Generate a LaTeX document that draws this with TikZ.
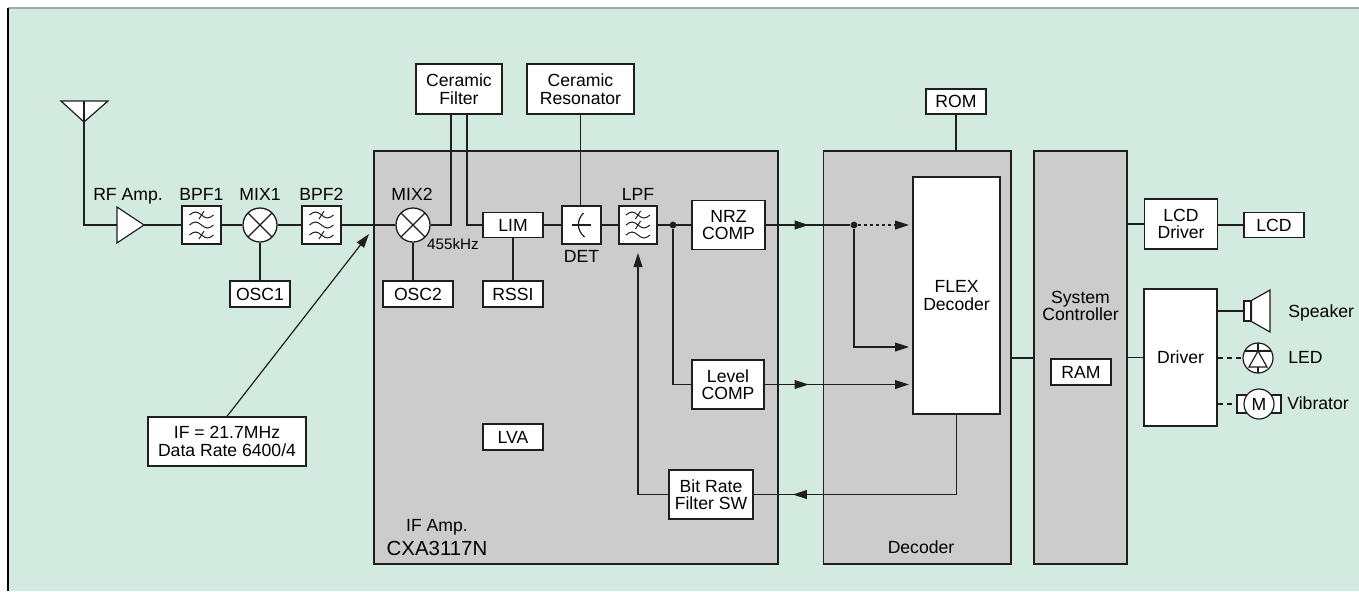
\documentclass[tikz,border=0pt]{standalone}
\usepackage{fontspec}
\setmainfont{Liberation Sans}
\usetikzlibrary{arrows.meta,decorations.markings,calc}
\definecolor{bgg}{HTML}{D3EAE0}
\definecolor{blkg}{HTML}{CCCCCC}
\definecolor{ln}{HTML}{1E1E1E}
\newcommand\tld[1]{\draw[wire,line width=0.5pt] (-12,#1) sin (-6,#1-3) cos (0,#1) sin (6,#1+3) cos (12,#1);}
\newcommand\tck[1]{\draw[wire,line width=0.5pt] (-2.5,#1+4) -- (2.5,#1-4);}
\begin{document}
\begin{tikzpicture}[x=0.5pt,y=-0.5pt,
  every node/.style={font=\fontsize{8.8}{8.8}\selectfont, text=black},
  sz/.style 2 args={minimum width={#1*0.5pt}, minimum height={#2*0.5pt}},
  wbox/.style={draw=ln, fill=white, line width=0.65pt, inner sep=0pt, align=center},
  gbox/.style={draw=ln, fill=blkg, line width=0.65pt, inner sep=0pt},
  wire/.style={draw=ln, line width=0.6pt},
  mixc/.style={circle, draw=ln, fill=white, line width=0.65pt, inner sep=0pt, minimum size=17pt},
  tip/.style={-{Triangle[length=7pt,width=4.4pt]}},
  midtip/.style={postaction={decorate}, decoration={markings, mark=at position #1 with {\arrow{Triangle[length=7pt,width=4.4pt]}}}},
  lbl/.style={anchor=base, inner sep=0pt},
  dotn/.style={circle, fill=ln, inner sep=0pt, minimum size=3.4pt}
]
\useasboundingbox (0,0) rectangle (1359,591);
\fill[white] (0,0) rectangle (1359,591);
\fill[bgg] (8,8) rectangle (1359,591);
\draw[gray!70, line width=1pt] (8,8) -- (1359,8);
\draw[black, line width=1pt] (8,8) -- (8,591);

% group blocks
\node[gbox, sz={404}{413}] (ifblk) at (576,357.5) {};
\node[gbox, sz={187.5}{413}] (decblk) at (917.25,357.5) {};
\node[gbox, sz={93}{413}] (sysblk) at (1080.5,357.5) {};

% antenna and RF amp
\coordinate (ant) at (84,101);
\coordinate (rfin) at (117,225);
\coordinate (rfout) at (144,225);
\draw[wire, fill=white] (61,101) -- (108,101) -- (84,122) -- cycle;
\draw[wire, fill=white] (117,207) -- (144,225) -- (117,243) -- cycle;

% boxes
\node[wbox, sz={60}{26}] (osc1) at (260,294) {OSC1};
\node[wbox, sz={39}{38}] (bpf1) at (201.5,225) {};
\node[wbox, sz={39}{38}] (bpf2) at (321.5,225) {};
\node[mixc] (mix1) at (260,225) {};
\node[mixc] (mix2) at (413,225) {};
\node[wbox, sz={70}{26}] (osc2) at (418,294) {OSC2};
\node[wbox, sz={86}{50}] (cf) at (459,89) {Ceramic\\Filter};
\node[wbox, sz={60}{25}] (lim) at (513,225) {LIM};
\node[wbox, sz={60}{26}] (rssi) at (513,294) {RSSI};
\node[wbox, sz={39}{38}] (det) at (581.5,225) {};
\node[wbox, sz={107}{50}] (cr) at (580.5,89) {Ceramic\\Resonator};
\node[wbox, sz={38}{38}] (lpf) at (638,225) {};
\node[wbox, sz={73}{49}] (nrz) at (728.5,225) {NRZ\\COMP};
\node[wbox, sz={72}{49}] (lvl) at (728,384.5) {Level\\COMP};
\node[wbox, sz={84}{49}] (brf) at (711,494.5) {Bit Rate\\Filter SW};
\node[wbox, sz={60}{26}] (lva) at (513,437) {LVA};
\node[wbox, sz={158}{49}] (ifbox) at (227,441.5) {IF = 21.7MHz\\Data Rate 6400/4};
\node[wbox, sz={87}{237}] (flex) at (956.5,295.5) {FLEX\\Decoder};
\node[wbox, sz={60}{25}] (rom) at (956,101.5) {ROM};
\node[wbox, sz={60}{26}] (ram) at (1081,372) {RAM};
\node[wbox, sz={73}{50}] (lcdd) at (1181,224) {LCD\\Driver};
\node[wbox, sz={60}{25}] (lcd) at (1274,225) {LCD};
\node[wbox, sz={73}{137}] (drv) at (1180.5,357.5) {Driver};

% labels
\node[lbl] at (128,200) {RF Amp.};
\node[lbl] at (201.5,200) {BPF1};
\node[lbl] at (260,200) {MIX1};
\node[lbl] at (321.5,200) {BPF2};
\node[lbl] at (412,200) {MIX2};
\node[lbl] at (638,200) {LPF};
\node[lbl, font=\fontsize{7.6}{8}\selectfont] at (453,249) {455kHz};
\node[lbl] at (581.5,262) {DET};
\node[lbl] at (437,531) {IF Amp.};
\node[lbl, font=\fontsize{10.2}{12}\selectfont] at (437,555) {CXA3117N};
\node[lbl] at (921,553) {Decoder};
\node[align=center, inner sep=0pt] at (1080.5,306) {System\\Controller};

% symbols
\foreach \b in {bpf1,bpf2}{
  \begin{scope}[shift={(\b.center)}]
    \tld{-10}\tld{0}\tld{10}\tck{-10}\tck{10}
  \end{scope}}
\begin{scope}[shift={(lpf.center)}]
  \tld{-10}\tld{0}\tld{10}\tck{-10}\tck{0}
\end{scope}
\foreach \m in {mix1,mix2}{
  \draw[wire] ([shift={(-12,-12)}]\m.center) -- ([shift={(12,12)}]\m.center);
  \draw[wire] ([shift={(-12,12)}]\m.center) -- ([shift={(12,-12)}]\m.center);}
\begin{scope}[shift={(det.center)}]
  \draw[wire] (-10,0) -- (9,0);
  \draw[wire] (2,-12) .. controls (-5,-5) and (-5,5) .. (3,12);
\end{scope}

% connectors
\coordinate (ifin) at (369,234);
\coordinate (lpfin) at (638,253);
\node[dotn] (dot1) at (673,225) {};
\node[dotn] (dot2) at (854,225) {};
\coordinate (fin0) at (909,225);
\coordinate (fin1) at (909,347);
\coordinate (fin2) at (909,384.5);

\draw[wire] (ant) |- (rfin);
\draw[wire] (84,101) -- (84,122);
\draw[wire] (rfout) -- (bpf1.west);
\draw[wire] (bpf1.east) -- (mix1.west);
\draw[wire] (mix1.east) -- (bpf2.west);
\draw[wire] (bpf2.east) -- (mix2.west);
\draw[wire] (mix1.south) -- (osc1.north);
\draw[wire] (mix2.south) -- (mix2.south |- osc2.north);
\draw[wire, tip] (ifbox.north) -- (ifin);
\draw[wire] (mix2.east) -| ($(cf.south)+(-8,0)$);
\draw[wire] ($(cf.south)+(8,0)$) |- (lim.west);
\draw[wire] (lim.east) -- (det.west);
\draw[wire] (det.east) -- (lpf.west);
\draw[wire] (lpf.east) -- (nrz.west);
\draw[wire] (lim.south) -- (rssi.north);
\draw[wire] (cr.south) -- (cr.south |- det.north);
\draw[wire, midtip=21.5pt] (nrz.east) -- (dot2);
\draw[wire, dash pattern=on 1.5pt off 1.5pt, tip] (dot2) -- (fin0);
\draw[wire, tip] (dot2) |- (fin1);
\draw[wire] (dot1) |- (lvl.west);
\draw[wire, midtip=22pt, tip] (lvl.east) -- (fin2);
\draw[wire, midtip=121.75pt] (flex.south) |- (brf.east);
\draw[wire, tip] (brf.west) -| (lpfin);
\draw[wire] (rom.south) -- (rom.south |- decblk.north);
\draw[wire] (decblk.east |- 0,358) -- (sysblk.west |- 0,358);
\draw[wire] (sysblk.east |- drv.west) -- (drv.west);
\draw[wire] (sysblk.east |- lcdd.west) -- (lcdd.west);
\draw[wire] (lcdd.east |- lcd.west) -- (lcd.west);

% speaker
\node[draw=ln, fill=white, line width=0.6pt, inner sep=0pt, sz={7}{20}] (spk) at (1247.5,311) {};
\draw[wire, fill=white] (spk.north east) -- (1270,290) -- (1270,332) -- (spk.south east) -- cycle;
\draw[wire] (drv.east |- spk.west) -- (spk.west);
\node[anchor=base west, inner sep=0pt] at (1288,317) {Speaker};

% LED
\node[circle, draw=ln, fill=white, line width=0.6pt, inner sep=0pt, minimum size=15pt] (led) at (1258,358) {};
\begin{scope}[shift={(led.center)}]
  \draw[wire] (-13,-7) -- (13,-7);
  \draw[wire] (0,-7) -- (-9,9) -- (9,9) -- cycle;
  \draw[wire] (0,-15) -- (0,-7);
  \draw[wire] (0,9) -- (0,15);
\end{scope}
\draw[wire, dash pattern=on 2.5pt off 2pt] (drv.east |- led.west) -- (led.west);
\node[anchor=base west, inner sep=0pt] at (1288,363) {LED};

% vibrator
\node[draw=ln, fill=white, line width=0.6pt, inner sep=0pt, sz={44}{18}] (vib) at (1259,404) {};
\node[circle, draw=ln, fill=white, line width=0.6pt, inner sep=0pt, minimum size=15pt] (mot) at (1259,404) {M};
\draw[wire, dash pattern=on 2.5pt off 2pt] (drv.east |- vib.west) -- (vib.west);
\node[anchor=base west, inner sep=0pt] at (1287,409) {Vibrator};
\end{tikzpicture}
\end{document}
